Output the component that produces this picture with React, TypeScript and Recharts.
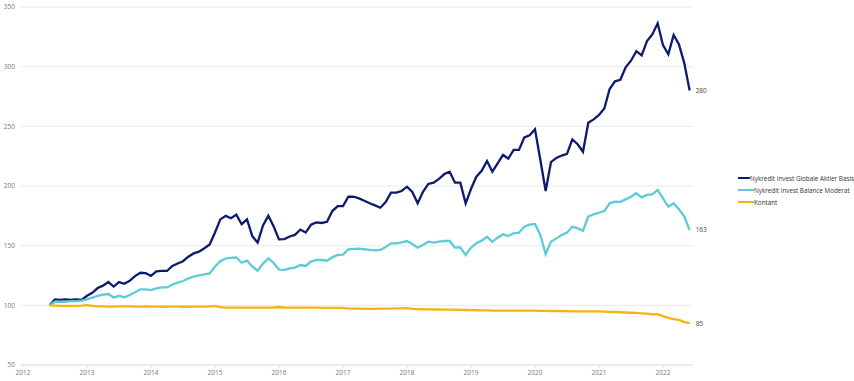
import React from 'react';
import { LineChart, Line, XAxis, YAxis, CartesianGrid, Legend } from 'recharts';

// Monthly series, starting June 2012, ending June 2022
const startYear = 2012;
const startMonth = 6;

const globaleAktier = [
  100, 105, 104.5, 105, 104.5, 105, 104.5, 108, 110.5, 114.5,
  116.5, 119.5, 115.7, 119.5, 118, 120.5, 124.5, 127.3, 127, 124.6,
  128.5, 128.8, 128.8, 133, 135, 137, 140.8, 143.5, 145, 147.8,
  151, 161, 172, 175, 173, 176, 168, 172, 158, 152.5,
  167, 175, 166, 155.3, 155.5, 157.7, 159, 163.5, 161, 167.5,
  169.5, 169, 170, 179, 183.2, 183.2, 191, 191, 189.6, 187.7,
  185.5, 183.8, 181.8, 186.5, 194.4, 194.4, 195.8, 199.4, 195, 185.5,
  195.2, 201.7, 202.8, 206, 210, 212, 202.8, 202.8, 185.5, 197.5,
  207.8, 212.8, 221, 212, 219, 226, 223, 230.2, 230.2, 240.8,
  242.5, 247.5, 222, 195.8, 220, 223.5, 225.5, 227, 239, 235,
  228.7, 253, 255.8, 259.5, 265, 281.3, 287.7, 289, 299.5, 305,
  313, 309.5, 321.5, 327, 336.3, 318, 310.4, 326.5, 318.7, 302.8,
  280,
];

const balanceModerat = [
  100, 103, 103, 103, 103.5, 103.6, 104, 105, 106.5, 108,
  109, 109.5, 106.5, 108, 106.8, 108.7, 111, 113.4, 113.4, 112.8,
  114.2, 115, 115, 117.5, 119, 120.4, 122.5, 124, 125.2, 126,
  126.8, 132.5, 137, 139.2, 139.8, 140.2, 135.7, 137.4, 132.4, 129,
  135, 139.4, 135.5, 130, 129.7, 131, 131.6, 133.8, 133, 136.6,
  138, 138, 137.4, 140.2, 142.2, 142.5, 147, 147.3, 147.5, 147,
  146.4, 146, 146.4, 148.8, 152, 152, 152.8, 153.9, 151.4, 148.3,
  150.5, 153.3, 152.5, 153.3, 153.9, 153.9, 148.3, 148.5, 142.2, 148.3,
  152, 154.2, 157.5, 153.3, 156.7, 159.5, 158.1, 160.4, 160.9, 165.9,
  167.6, 168.2, 159, 143, 153.3, 156.1, 158.9, 160.9, 165.9, 164.5,
  162.6, 174.3, 176.3, 177.6, 179, 185.5, 186.8, 186.7, 188.8, 191,
  193.9, 190.5, 192.5, 193, 196.7, 189.6, 182.6, 185.5, 180.5, 174.3,
  163,
];

const kontant = [
  100, 99.8, 99.6, 99.5, 99.5, 99.6, 99.8, 100.2, 99.5, 99.2,
  99.1, 99, 99, 99.1, 99.2, 99.1, 99, 99, 99.2, 99,
  98.9, 98.8, 98.8, 98.9, 98.9, 98.8, 98.8, 98.9, 98.9, 99,
  99.2, 99.6, 98.5, 98.2, 98, 98, 98, 98.1, 98, 98,
  98.1, 98.1, 98.2, 98.6, 98.2, 98, 98, 98, 98.1, 98,
  98, 97.9, 97.9, 97.9, 97.8, 97.8, 97.3, 97.2, 97.2, 97.1,
  97.1, 97.1, 97.2, 97.3, 97.3, 97.4, 97.4, 97.6, 97, 96.8,
  96.7, 96.6, 96.5, 96.5, 96.4, 96.4, 96.3, 96.2, 96.1, 96,
  95.9, 95.8, 95.7, 95.6, 95.6, 95.6, 95.5, 95.5, 95.5, 95.5,
  95.5, 95.6, 95.4, 95.3, 95.2, 95.2, 95.1, 95.1, 95, 95,
  95, 95, 95, 95, 94.8, 94.6, 94.4, 94.2, 94, 93.8,
  93.6, 93.3, 93, 92.4, 92.6, 91, 89.5, 88.5, 87.8, 86,
  85,
];

const yTicks = [50, 100, 150, 200, 250, 300, 350];
const xTicks = [2012, 2013, 2014, 2015, 2016, 2017, 2018, 2019, 2020, 2021, 2022];

const seriesNames = [
  'Nykredit Invest Globale Aktier Basis',
  'Nykredit Invest Balance Moderat',
  'Kontant',
];
const seriesColors = ['#0d1b6e', '#5ccbd6', '#f5b40f'];
const seriesKeys = ['globale', 'balance', 'kontant'];

const data = globaleAktier.map((v, i) => ({
  t: startYear + (startMonth - 1 + i) / 12,
  globale: v,
  balance: balanceModerat[i],
  kontant: kontant[i],
}));

const FONT = '"Open Sans", "Liberation Sans", sans-serif';
const lastIndex = data.length - 1;

const makeEndLabel = () => (props: any) => {
  const { x, y, index, value } = props;
  if (index !== lastIndex) return null;
  return (
    <text x={x + 6} y={y} dy="0.35em" fontSize={6.5} fill="#444" fontFamily={FONT}>
      {Math.round(value)}
    </text>
  );
};

const LegendContent = () => (
  <div style={{ fontFamily: FONT, fontSize: 6.3, color: '#333' }}>
    {seriesNames.map((name, i) => (
      <div key={name} style={{ display: 'flex', alignItems: 'center', height: 12, whiteSpace: 'nowrap' }}>
        <span style={{ display: 'inline-block', width: 16, height: 2.5, background: seriesColors[i], marginRight: 0 }} />
        <span>{name}</span>
      </div>
    ))}
  </div>
);

export default function App() {
  return (
    <div style={{ position: 'absolute', left: 0, top: 0, width: 854, height: 381, background: '#fff' }}>
      <LineChart width={854} height={381} data={data} margin={{ top: 7, right: 161, bottom: 0, left: 0 }}>
        <CartesianGrid horizontal vertical={false} stroke="#ebebeb" strokeWidth={1} />
        <XAxis
          dataKey="t"
          type="number"
          domain={[2011.953, 2022.469]}
          ticks={xTicks}
          allowDataOverflow
          height={16}
          axisLine={{ stroke: '#e3e3e3' }}
          tickLine={{ stroke: '#e3e3e3' }}
          tickSize={3}
          tickMargin={2}
          tick={{ fontSize: 6.5, fill: '#777', fontFamily: FONT }}
          interval={0}
        />
        <YAxis
          type="number"
          domain={[50, 350]}
          ticks={yTicks}
          width={20}
          axisLine={false}
          tickLine={false}
          tickSize={0}
          tickMargin={5}
          tick={{ fontSize: 6.5, fill: '#777', fontFamily: FONT }}
          interval={0}
        />
        <Legend
          layout="vertical"
          align="center"
          verticalAlign="middle"
          content={<LegendContent />}
          wrapperStyle={{ left: 738, top: 172, width: 116, height: 36 }}
        />
        {seriesKeys.map((k, i) => (
          <Line
            key={k}
            type="linear"
            dataKey={k}
            name={seriesNames[i]}
            stroke={seriesColors[i]}
            strokeWidth={2.3}
            dot={false}
            activeDot={false}
            isAnimationActive={false}
            label={makeEndLabel()}
          />
        ))}
      </LineChart>
    </div>
  );
}
